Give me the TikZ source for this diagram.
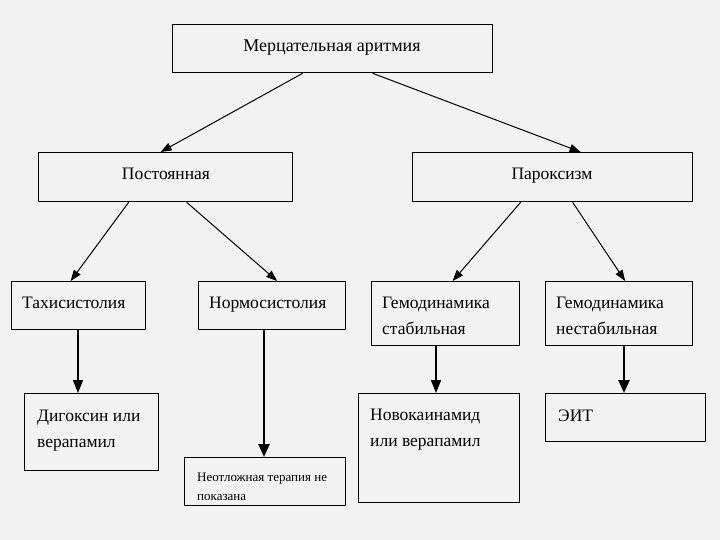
\documentclass[tikz,border=0pt]{standalone}
\usepackage{fontspec}
\setmainfont{Liberation Serif}
\usetikzlibrary{arrows.meta}
\begin{document}
\begin{tikzpicture}[x=1pt,y=-1pt,
  box/.style={draw=black,line width=1.3pt,fill=none,anchor=north west,inner sep=0pt},
  txt/.style={anchor=base west,inner sep=0pt,align=left,font=\fontsize{17.5}{26}\selectfont},
  ctxt/.style={anchor=base,inner sep=0pt,font=\fontsize{17.5}{18}\selectfont},
  conn/.style={line width=1pt,-{Triangle[length=11pt,width=8pt]}},
  vconn/.style={line width=1.5pt,-{Triangle[length=13pt,width=10pt]}},
  vthick/.style={line width=2.5pt,-{Triangle[length=13pt,width=11pt]}}]
\fill[fill={rgb,255:red,242;green,242;blue,242}] (0,0) rectangle (720,540);
\useasboundingbox (0,0) rectangle (720,540);
% boxes
\node[box,minimum width=320pt,minimum height=48pt] (top) at (172,24) {};
\node[box,minimum width=254pt,minimum height=49pt] (post) at (38,152) {};
\node[box,minimum width=280pt,minimum height=49pt] (par) at (412,152) {};
\node[box,minimum width=134pt,minimum height=48pt] (tachy) at (11,281) {};
\node[box,minimum width=147pt,minimum height=48pt] (normo) at (198,281) {};
\node[box,minimum width=148pt,minimum height=64pt] (gst) at (371,281) {};
\node[box,minimum width=147pt,minimum height=64pt] (gnst) at (545,281) {};
\node[box,minimum width=134pt,minimum height=77pt] (dig) at (24,393) {};
\node[box,minimum width=161pt,minimum height=48pt] (neot) at (184,457) {};
\node[box,minimum width=161pt,minimum height=109pt] (novo) at (358,393) {};
\node[box,minimum width=160pt,minimum height=48pt] (eit) at (545,393) {};
% texts (base anchor = baseline of last line)
\node[ctxt,font=\fontsize{18}{18}\selectfont] (ttop) at (332,52) {Мерцательная аритмия};
\node[ctxt] (tpost) at (166,180) {Постоянная};
\node[ctxt] (tpar) at (552,180) {Пароксизм};
\node[txt] (ttachy) at (22,308) {Тахисистолия};
\node[txt] (tnormo) at (209,308) {Нормосистолия};
\node[txt] (tgst) at (382,334) {Гемодинамика\\стабильная};
\node[txt] (tgnst) at (556,334) {Гемодинамика\\нестабильная};
\node[txt] (tdig) at (37,447) {Дигоксин или\\верапамил};
\node[txt,font=\fontsize{13}{19}\selectfont] (tneot) at (197,500) {Неотложная терапия не\\показана};
\node[txt] (tnovo) at (370,446) {Новокаинамид\\или верапамил};
\node[txt] (teit) at (558,421) {ЭИТ};
% connectors
\draw[conn] ([xshift=-30pt]top.south) -- ([xshift=-5pt]post.north);
\draw[conn] ([xshift=40pt]top.south) -- ([xshift=28pt]par.north);
\draw[conn] ([xshift=-37pt]post.south) -- ([xshift=-8pt]tachy.north);
\draw[conn] ([xshift=21pt]post.south) -- ([xshift=5pt]normo.north);
\draw[conn] ([xshift=-32pt]par.south) -- ([xshift=7pt]gst.north);
\draw[conn] ([xshift=20pt]par.south) -- ([xshift=6pt]gnst.north);
\draw[vconn] (tachy.south -| 78,0) -- (dig.north -| 78,0);
\draw[vthick] (normo.south -| 264,0) -- (neot.north -| 264,0);
\draw[vconn] (gst.south -| 436,0) -- (novo.north -| 436,0);
\draw[vthick] (gnst.south -| 624,0) -- (eit.north -| 624,0);
\end{tikzpicture}
\end{document}
